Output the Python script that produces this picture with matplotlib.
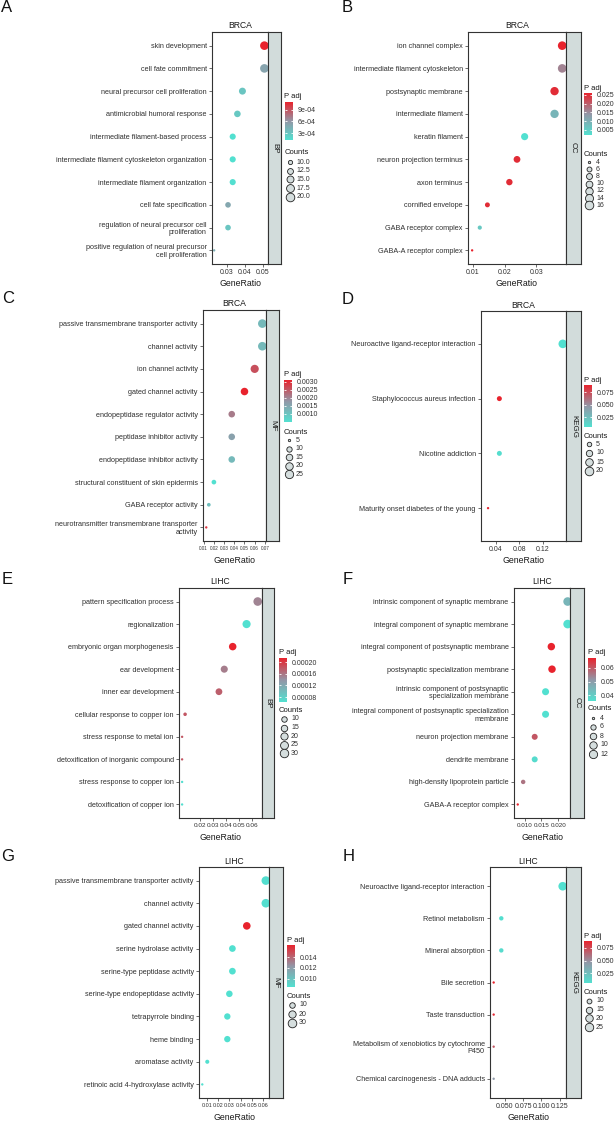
import numpy as np
import matplotlib
matplotlib.use("Agg")
import matplotlib.pyplot as plt
from matplotlib.colors import LinearSegmentedColormap, Normalize
import matplotlib.cm as cm

plt.rcParams['font.family'] = ['Liberation Sans', 'DejaVu Sans']

# ---------------- data ----------------
a_terms = ["skin development", "cell fate commitment", "neural precursor cell proliferation",
           "antimicrobial humoral response", "intermediate filament-based process",
           "intermediate filament cytoskeleton organization", "intermediate filament organization",
           "cell fate specification", "regulation of neural precursor cell\nproliferation",
           "positive regulation of neural precursor\ncell proliferation"]
a_ratio = [0.0508, 0.0508, 0.0386, 0.0358, 0.0332, 0.0332, 0.0332, 0.0306, 0.0306, 0.0229]
a_padj = [1.1e-3, 5.2e-4, 3.0e-4, 2.8e-4, 1.2e-4, 1.2e-4, 1.25e-4, 5.0e-4, 3.0e-4, 4.5e-4]
a_count = [20, 20, 15, 14, 13, 13, 13, 12, 12, 9]

b_terms = ["ion channel complex", "intermediate filament cytoskeleton", "postsynaptic membrane",
           "intermediate filament", "keratin filament", "neuron projection terminus",
           "axon terminus", "cornified envelope", "GABA receptor complex", "GABA-A receptor complex"]
b_ratio = [0.0381, 0.0381, 0.0357, 0.0357, 0.0263, 0.0239, 0.0215, 0.0146, 0.0122, 0.0098]
b_padj = [0.026, 0.016, 0.025, 0.009, 0.002, 0.025, 0.025, 0.025, 0.006, 0.026]
b_count = [16, 16, 15, 15, 11, 10, 9, 6, 5, 4]

c_terms = ["passive transmembrane transporter activity", "channel activity", "ion channel activity",
           "gated channel activity", "endopeptidase regulator activity", "peptidase inhibitor activity",
           "endopeptidase inhibitor activity", "structural constituent of skin epidermis",
           "GABA receptor activity", "neurotransmitter transmembrane transporter\nactivity"]
c_ratio = [0.0675, 0.0675, 0.0600, 0.0500, 0.0375, 0.0375, 0.0375, 0.0200, 0.0150, 0.0125]
c_padj = [0.0012, 0.0012, 0.0026, 0.0031, 0.0021, 0.0016, 0.0012, 0.0005, 0.0011, 0.0029]
c_count = [27, 27, 24, 20, 15, 15, 15, 8, 6, 5]

d_terms = ["Neuroactive ligand-receptor interaction", "Staphylococcus aureus infection",
           "Nicotine addiction", "Maturity onset diabetes of the young"]
d_ratio = [0.1545, 0.0457, 0.0457, 0.0263]
d_padj = [0.005, 0.089, 0.007, 0.087]
d_count = [20, 6, 6, 3]

e_terms = ["pattern specification process", "regionalization", "embryonic organ morphogenesis",
           "ear development", "inner ear development", "cellular response to copper ion",
           "stress response to metal ion", "detoxification of inorganic compound",
           "stress response to copper ion", "detoxification of copper ion"]
e_ratio = [0.0645, 0.0559, 0.0452, 0.0387, 0.0346, 0.0085, 0.0062, 0.0062, 0.0062, 0.0062]
e_padj = [1.5e-4, 6.3e-5, 2.14e-4, 1.55e-4, 1.75e-4, 1.8e-4, 1.8e-4, 1.8e-4, 6.4e-5, 6.4e-5]
e_count = [31, 27, 22, 19, 17, 4, 3, 3, 3, 3]

f_terms = ["intrinsic component of synaptic membrane", "integral component of synaptic membrane",
           "integral component of postsynaptic membrane", "postsynaptic specialization membrane",
           "intrinsic component of postsynaptic\nspecialization membrane",
           "integral component of postsynaptic specialization\nmembrane",
           "neuron projection membrane", "dendrite membrane", "high-density lipoprotein particle",
           "GABA-A receptor complex"]
f_ratio = [0.0227, 0.0227, 0.0179, 0.0181, 0.0162, 0.0162, 0.0130, 0.0130, 0.0096, 0.0080]
f_padj = [0.045, 0.036, 0.067, 0.067, 0.036, 0.036, 0.060, 0.037, 0.056, 0.067]
f_count = [13, 13, 10, 10, 9, 9, 7, 7, 5, 4]

g_terms = ["passive transmembrane transporter activity", "channel activity", "gated channel activity",
           "serine hydrolase activity", "serine-type peptidase activity",
           "serine-type endopeptidase activity", "tetrapyrrole binding", "heme binding",
           "aromatase activity", "retinoic acid 4-hydroxylase activity"]
g_ratio = [0.0622, 0.0622, 0.0454, 0.0327, 0.0327, 0.0300, 0.0282, 0.0282, 0.0105, 0.0061]
g_padj = [0.0086, 0.0086, 0.0162, 0.0085, 0.0085, 0.0085, 0.0085, 0.0085, 0.0085, 0.0085]
g_count = [30, 30, 22, 16, 16, 15, 14, 14, 5, 3]

h_terms = ["Neuroactive ligand-receptor interaction", "Retinol metabolism", "Mineral absorption",
           "Bile secretion", "Taste transduction", "Metabolism of xenobiotics by cytochrome\nP450",
           "Chemical carcinogenesis - DNA adducts"]
h_ratio = [0.1291, 0.0454, 0.0454, 0.035, 0.035, 0.035, 0.035]
h_padj = [0.005, 0.006, 0.008, 0.089, 0.087, 0.070, 0.045]
h_count = [26, 9, 9, 7, 7, 7, 7]

# axis ticks / legend breaks
a_xticks = [0.03, 0.04, 0.05]; a_xlabels = ["0.03", "0.04", "0.05"]
b_xticks = [0.01, 0.02, 0.03]; b_xlabels = ["0.01", "0.02", "0.03"]
c_xticks = [0.01, 0.02, 0.03, 0.04, 0.05, 0.06, 0.07]
c_xlabels = ["0.01", "0.02", "0.03", "0.04", "0.05", "0.06", "0.07"]
d_xticks = [0.04, 0.08, 0.12]; d_xlabels = ["0.04", "0.08", "0.12"]
e_xticks = [0.02, 0.03, 0.04, 0.05, 0.06]; e_xlabels = ["0.02", "0.03", "0.04", "0.05", "0.06"]
f_xticks = [0.010, 0.015, 0.020]; f_xlabels = ["0.010", "0.015", "0.020"]
g_xticks = [0.01, 0.02, 0.03, 0.04, 0.05, 0.06]
g_xlabels = ["0.01", "0.02", "0.03", "0.04", "0.05", "0.06"]
h_xticks = [0.050, 0.075, 0.100, 0.125]; h_xlabels = ["0.050", "0.075", "0.100", "0.125"]

a_cticks = [3e-4, 6e-4, 9e-4]; a_clabels = ["3e-04", "6e-04", "9e-04"]
b_cticks = [0.005, 0.010, 0.015, 0.020, 0.025]; b_clabels = ["0.005", "0.010", "0.015", "0.020", "0.025"]
c_cticks = [0.0010, 0.0015, 0.0020, 0.0025, 0.0030]
c_clabels = ["0.0010", "0.0015", "0.0020", "0.0025", "0.0030"]
d_cticks = [0.025, 0.050, 0.075]; d_clabels = ["0.025", "0.050", "0.075"]
e_cticks = [0.00008, 0.00012, 0.00016, 0.00020]
e_clabels = ["0.00008", "0.00012", "0.00016", "0.00020"]
f_cticks = [0.04, 0.05, 0.06]; f_clabels = ["0.04", "0.05", "0.06"]
g_cticks = [0.010, 0.012, 0.014]; g_clabels = ["0.010", "0.012", "0.014"]
h_cticks = [0.025, 0.050, 0.075]; h_clabels = ["0.025", "0.050", "0.075"]

a_sbreaks = [10, 12.5, 15, 17.5, 20]; a_slabels = ["10.0", "12.5", "15.0", "17.5", "20.0"]
b_sbreaks = [4, 6, 8, 10, 12, 14, 16]; b_slabels = ["4", "6", "8", "10", "12", "14", "16"]
c_sbreaks = [5, 10, 15, 20, 25]; c_slabels = ["5", "10", "15", "20", "25"]
d_sbreaks = [5, 10, 15, 20]; d_slabels = ["5", "10", "15", "20"]
e_sbreaks = [10, 15, 20, 25, 30]; e_slabels = ["10", "15", "20", "25", "30"]
f_sbreaks = [4, 6, 8, 10, 12]; f_slabels = ["4", "6", "8", "10", "12"]
g_sbreaks = [10, 20, 30]; g_slabels = ["10", "20", "30"]
h_sbreaks = [10, 15, 20, 25]; h_slabels = ["10", "15", "20", "25"]

# ---------------- style / layout ----------------
W, H = 614, 1121
fig = plt.figure(figsize=(W / 100, H / 100), dpi=100)
cmap = LinearSegmentedColormap.from_list("padj", ["#52E0D0", "#9396A6", "#E8232D"])
STRIP = "#D2DCDB"
DARK = "#333333"

panels = [
    dict(letter="A", lpos=(1, 12), title="BRCA", strip="BP", box=(212, 32, 268, 264, 281),
         terms=a_terms, ratio=a_ratio, padj=a_padj, count=a_count, xlim=(0.0217, 0.0528),
         xt=a_xticks, xl=a_xlabels, xfs=5.0, ct=a_cticks, cl=a_clabels, sb=a_sbreaks, sl=a_slabels,
         leg=(284.5, 102, 140, 153, 162, 8.7)),
    dict(letter="B", lpos=(342, 12), title="BRCA", strip="CC", box=(468, 32, 566, 264, 581),
         terms=b_terms, ratio=b_ratio, padj=b_padj, count=b_count, xlim=(0.0085, 0.0393),
         xt=b_xticks, xl=b_xlabels, xfs=5.0, ct=b_cticks, cl=b_clabels, sb=b_sbreaks, sl=b_slabels,
         leg=(584, 93, 135, 154, 162, 7.2)),
    dict(letter="C", lpos=(2, 303), title="BRCA", strip="MF", box=(203, 310, 266, 541, 279),
         terms=c_terms, ratio=c_ratio, padj=c_padj, count=c_count, xlim=(0.0093, 0.0711),
         xt=c_xticks, xl=c_xlabels, xfs=3.3, ct=c_cticks, cl=c_clabels, sb=c_sbreaks, sl=c_slabels,
         leg=(283.5, 380, 422, 432, 440, 8.6)),
    dict(letter="D", lpos=(342, 304), title="BRCA", strip="KEGG", box=(481, 311, 566, 541, 581),
         terms=d_terms, ratio=d_ratio, padj=d_padj, count=d_count, xlim=(0.0142, 0.160),
         xt=d_xticks, xl=d_xlabels, xfs=5.0, ct=d_cticks, cl=d_clabels, sb=d_sbreaks, sl=d_slabels,
         leg=(584, 385, 427, 436, 444, 9.0)),
    dict(letter="E", lpos=(2, 584), title="LIHC", strip="BP", box=(179, 588, 262, 818, 274),
         terms=e_terms, ratio=e_ratio, padj=e_padj, count=e_count, xlim=(0.0038, 0.0678),
         xt=e_xticks, xl=e_xlabels, xfs=4.6, ct=e_cticks, cl=e_clabels, sb=e_sbreaks, sl=e_slabels,
         leg=(279, 658, 702, 710, 719, 8.6)),
    dict(letter="F", lpos=(343, 584), title="LIHC", strip="CC", box=(514, 588, 570, 818, 584),
         terms=f_terms, ratio=f_ratio, padj=f_padj, count=f_count, xlim=(0.0069, 0.0234),
         xt=f_xticks, xl=f_xlabels, xfs=4.5, ct=f_cticks, cl=f_clabels, sb=f_sbreaks, sl=f_slabels,
         leg=(588, 658, 701, 709, 718, 9.0)),
    dict(letter="G", lpos=(1, 861), title="LIHC", strip="MF", box=(199, 867, 269, 1098, 283),
         terms=g_terms, ratio=g_ratio, padj=g_padj, count=g_count, xlim=(0.0032, 0.0650),
         xt=g_xticks, xl=g_xlabels, xfs=3.9, ct=g_cticks, cl=g_clabels, sb=g_sbreaks, sl=g_slabels,
         leg=(287, 945, 987, 997, 1005, 9.0)),
    dict(letter="H", lpos=(343, 861), title="LIHC", strip="KEGG", box=(490, 867, 566, 1098, 581),
         terms=h_terms, ratio=h_ratio, padj=h_padj, count=h_count, xlim=(0.030, 0.1336),
         xt=h_xticks, xl=h_xlabels, xfs=5.0, ct=h_cticks, cl=h_clabels, sb=h_sbreaks, sl=h_slabels,
         leg=(584, 941, 983, 992, 1001, 8.7)),
]

overlay = fig.add_axes([0, 0, 1, 1], zorder=10)
overlay.set_xlim(0, W)
overlay.set_ylim(H, 0)
overlay.axis("off")
overlay.patch.set_alpha(0)


def diam(v, lo, hi):
    t = np.clip((np.asarray(v, float) - lo) / (hi - lo), 0, None)
    return 1.7 + 4.5 * np.sqrt(t)


for p in panels:
    L, T, R, B, S = p["box"]
    ax = fig.add_axes([L / W, 1 - B / H, (R - L) / W, (B - T) / H])
    n = len(p["terms"])
    y = np.arange(n)
    cnt = np.asarray(p["count"], float)
    lo, hi = cnt.min(), cnt.max()
    vmin, vmax = min(p["padj"]), max(p["padj"])
    norm = Normalize(vmin, vmax)
    ax.scatter(p["ratio"], y, s=diam(cnt, lo, hi) ** 2, c=p["padj"], cmap=cmap, norm=norm,
               edgecolors="none", zorder=3)
    ax.set_ylim(n - 1 + 0.6, -0.6)
    ax.set_xlim(*p["xlim"])
    ax.set_yticks(y)
    ax.set_yticklabels(p["terms"], fontsize=5.2, color="#303030", linespacing=1.1)
    ax.set_xticks(p["xt"])
    ax.set_xticklabels(p["xl"], fontsize=p["xfs"], color="#303030")
    ax.tick_params(length=2.2, width=0.5, pad=1.6, color=DARK)
    for sp in ax.spines.values():
        sp.set_linewidth(0.8)
        sp.set_color(DARK)

    sax = fig.add_axes([R / W, 1 - B / H, (S - R) / W, (B - T) / H])
    sax.set_facecolor(STRIP)
    sax.set_xticks([]); sax.set_yticks([])
    for sp in sax.spines.values():
        sp.set_linewidth(0.8)
        sp.set_color(DARK)
    sax.text(0.5, 0.5, p["strip"], rotation=-90, ha="center", va="center",
             fontsize=5.8, color="#1A1A1A", transform=sax.transAxes)

    overlay.text((L + R) / 2, T - 6, p["title"], ha="center", va="center", fontsize=6.2, color="#1A1A1A")
    overlay.text((L + R) / 2, B + 19.5, "GeneRatio", ha="center", va="center", fontsize=6.3, color="#1A1A1A")
    overlay.text(p["lpos"][0], p["lpos"][1], p["letter"], ha="left", va="baseline", fontsize=12,
                 color="#111111")

    cx, ctop, cbot, cty, sy0, sdy = p["leg"]
    cax = fig.add_axes([cx / W, 1 - cbot / H, 8 / W, (cbot - ctop) / H])
    cb = fig.colorbar(cm.ScalarMappable(norm=norm, cmap=cmap), cax=cax, ticks=p["ct"])
    cb.outline.set_visible(False)
    cb.ax.set_yticklabels(p["cl"])
    cax.tick_params(axis="y", length=1.6, width=0.6, color="white", direction="in",
                    left=True, right=True, labelsize=5.0, pad=3.5, labelcolor="#303030")
    overlay.text(cx, ctop - 5, "P adj", ha="left", va="center", fontsize=5.5, color="#1A1A1A")
    overlay.text(cx, cty, "Counts", ha="left", va="center", fontsize=5.5, color="#1A1A1A")
    for i, (v, lab) in enumerate(zip(p["sb"], p["sl"])):
        yy = sy0 + i * sdy
        overlay.scatter([cx + 5], [yy], s=diam(v, lo, hi) ** 2, facecolor="#D5DEDE",
                        edgecolor="#222222", linewidths=0.6, clip_on=False)
        overlay.text(cx + 12, yy, lab, ha="left", va="center", fontsize=5.0, color="#303030")

fig.savefig("out.png", dpi=100)
